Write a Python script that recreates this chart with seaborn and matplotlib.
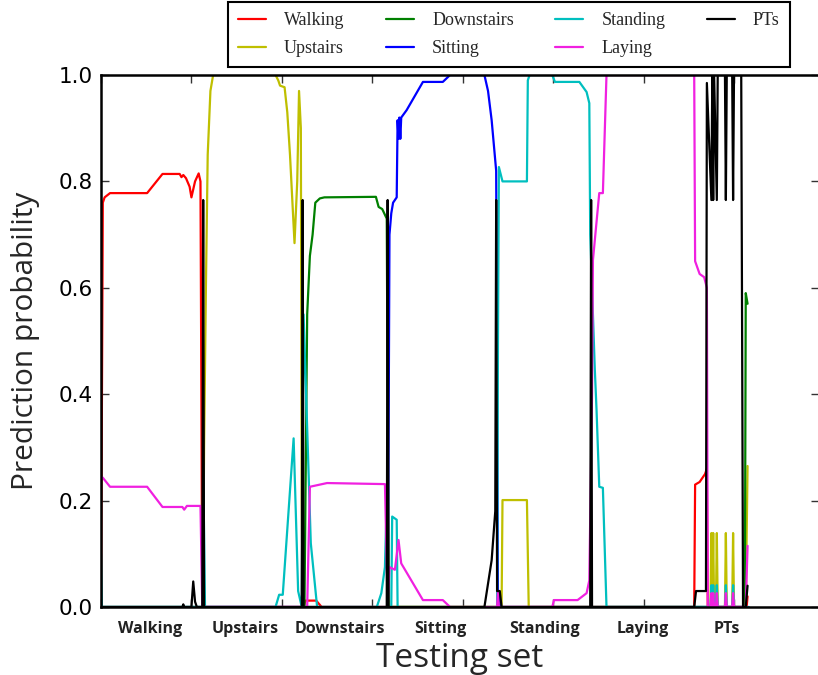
import pandas as pd
import matplotlib.pyplot as plt
import seaborn as sns
from matplotlib.lines import Line2D

sns.set_style("white")
plt.rcParams['font.family'] = ['DejaVu Sans']

# Leitura aproximada das curvas (x = amostra do conjunto de teste)
walk_x = [0, 2, 4, 10, 51, 68, 87, 89, 91, 94, 98, 100, 102, 104, 108, 110, 112, 224, 226, 238, 244,
          656, 657, 662, 668, 670, 671, 714, 715]
walk_y = [0, 0.76, 0.77, 0.778, 0.778, 0.814, 0.814, 0.808, 0.812, 0.806, 0.79, 0.77, 0.785, 0.80, 0.815,
          0.80, 0, 0, 0.012, 0.012, 0, 0, 0.23, 0.235, 0.25, 0.26, 0, 0, 0.02]

up_x = [0, 112, 113, 114, 116, 118, 121, 124, 193, 196, 198, 203, 206, 209, 212, 214, 217, 219, 221, 222, 223,
        443, 444, 471, 473, 674, 675, 676, 677, 678, 680, 681, 682, 690, 691, 692, 698, 699, 700, 713, 715]
up_y = [0, 0, 0.05, 0.30, 0.60, 0.85, 0.97, 1.0, 1.0, 0.99, 0.98, 0.977, 0.93, 0.85, 0.75, 0.684, 0.80, 0.97,
        0.90, 0.20, 0, 0, 0.201, 0.201, 0, 0, 0.139, 0, 0.139, 0, 0, 0.139, 0, 0, 0.139, 0, 0, 0.139, 0, 0, 0.265]

down_x = [0, 225, 228, 231, 234, 237, 242, 247, 304, 307, 311, 316, 318, 712, 713, 715]
down_y = [0, 0, 0.55, 0.66, 0.70, 0.76, 0.768, 0.77, 0.771, 0.752, 0.748, 0.73, 0, 0, 0.59, 0.57]

sit_x = [0, 317, 318, 319, 321, 323, 327, 328, 329, 330, 331, 332, 338, 356, 378, 386, 424, 428, 432, 437,
         438, 439, 440, 441, 716]
sit_y = [0, 0, 0.30, 0.70, 0.74, 0.76, 0.77, 0.915, 0.88, 0.92, 0.88, 0.92, 0.934, 0.987, 0.987, 1.0, 1.0,
         0.97, 0.915, 0.82, 0.40, 0, 0.03, 0, 0]

stand_x = [0, 1, 112, 113, 115, 193, 197, 201, 213, 218, 222, 224, 227, 232, 239, 305, 310, 314, 316, 317,
           321, 322, 327, 328, 438, 439, 440, 444, 471, 472, 474, 499, 502, 529, 537, 540, 541, 543, 546, 548,
           551, 555, 559, 674, 675, 676, 677, 678, 680, 681, 682, 690, 691, 692, 698, 699, 700, 716]
stand_y = [0.10, 0, 0, 0.27, 0, 0, 0.023, 0.023, 0.317, 0.03, 0, 0.55, 0.39, 0.12, 0, 0, 0.026, 0.075, 0.20, 0,
           0, 0.17, 0.164, 0, 0, 0.50, 0.827, 0.80, 0.80, 0.99, 1.0, 1.0, 0.987, 0.987, 0.968, 0.947, 0.70, 0.60,
           0.45, 0.37, 0.226, 0.224, 0, 0, 0.041, 0, 0.041, 0, 0, 0.041, 0, 0, 0.041, 0, 0, 0.041, 0, 0]

lay_x = [0, 2, 10, 51, 68, 90, 92, 95, 110, 112, 228, 231, 250, 314, 317, 319, 325, 329, 332, 356, 378, 386,
         438, 439, 440, 499, 501, 527, 537, 540, 543, 544, 551, 555, 559, 656, 657, 662, 667, 670, 671,
         674, 675, 676, 677, 678, 680, 681, 682, 690, 691, 692, 698, 699, 700, 713, 715]
lay_y = [0.245, 0.243, 0.226, 0.226, 0.188, 0.188, 0.183, 0.19, 0.19, 0, 0, 0.226, 0.233, 0.231, 0, 0.075, 0.07,
         0.126, 0.082, 0.013, 0.013, 0, 0, 0.03, 0, 0, 0.013, 0.013, 0.026, 0.05, 0.40, 0.652, 0.778, 0.778, 1.0,
         1.0, 0.65, 0.626, 0.62, 0.60, 0, 0, 0.026, 0, 0.026, 0, 0, 0.026, 0, 0, 0.026, 0, 0, 0.026, 0, 0, 0.115]

pts_x = [0, 90, 91, 92, 100, 102, 104, 106, 112, 113, 114, 222, 223, 224, 316, 317, 318, 424, 432, 436, 437,
         438, 441, 443, 541, 542, 543, 656, 658, 669, 670, 675, 676, 677, 678, 681, 682, 690, 691, 692, 698,
         699, 700, 708, 710, 713, 715]
pts_y = [0, 0, 0.005, 0, 0, 0.048, 0.01, 0, 0, 0.765, 0, 0, 0.765, 0, 0, 0.765, 0, 0, 0.088, 0.18, 0.765,
         0.03, 0.03, 0, 0, 0.765, 0, 0, 0.03, 0.03, 0.985, 0.765, 1.0, 0.765, 1.0, 0.765, 1.0, 1.0, 0.765, 1.0,
         1.0, 0.765, 1.0, 1.0, 0, 0, 0.04]

activities = ["Walking", "Upstairs", "Downstairs", "Sitting", "Standing", "Laying", "PTs"]
colors = ["#ff0000", "#bfbf00", "#008000", "#0000ff", "#00bfbf", "#f020e0", "#000000"]
series = [(walk_x, walk_y), (up_x, up_y), (down_x, down_y), (sit_x, sit_y),
          (stand_x, stand_y), (lay_x, lay_y), (pts_x, pts_y)]

# Rótulos das classes no eixo x
class_centers = [54, 159, 264, 375, 491, 599, 692]
class_labels = ["Walking", "Upstairs", "Downstairs", "Sitting", "Standing", "Laying", "PTs"]

frames = []
for name, (xs, ys) in zip(activities, series):
    frames.append(pd.DataFrame({"amostra": xs, "prob": ys, "classe": name}))
df = pd.concat(frames, ignore_index=True)

fig = plt.figure(figsize=(8.18, 6.75), dpi=100)
ax = fig.add_axes([101 / 818, 68 / 675, 718 / 818, 532 / 675])

sns.lineplot(data=df, x="amostra", y="prob", hue="classe", hue_order=activities,
             palette=dict(zip(activities, colors)), estimator=None, sort=False,
             linewidth=1.6, legend=False, ax=ax)

ax.set_xlim(0, 794)
ax.set_ylim(0, 1.0)
ax.set_xticks(range(0, 800, 100))
ax.set_xticklabels([])
ax.set_yticks([0, 0.2, 0.4, 0.6, 0.8, 1.0])
ax.set_yticklabels(["0.0", "0.2", "0.4", "0.6", "0.8", "1.0"], fontsize=15.5)
ax.set_xticks(class_centers, minor=True)
ax.set_xticklabels(class_labels, minor=True, fontsize=11.5, fontweight="bold",
                   family="Open Sans", color="#222222")
ax.tick_params(which="major", direction="in", length=6, width=1, top=True, right=True,
               bottom=True, left=True, colors="#333333", labelcolor="black", pad=6)
ax.tick_params(which="minor", length=0, pad=10)
for s in ax.spines.values():
    s.set_color("black")
    s.set_linewidth(1.8)

ax.set_ylabel("Prediction probability", fontsize=21.5, family="Open Sans")
ax.yaxis.set_label_coords(-0.085, 0.5)
ax.set_xlabel("Testing set", fontsize=24, family="Open Sans")
ax.xaxis.set_label_coords(0.5, -0.065)

handles = [Line2D([], [], color=c, lw=1.6) for c in colors]
leg = ax.legend(handles, activities, ncol=4, loc="upper left",
                bbox_to_anchor=(228 / 818, 1 - 2 / 675), bbox_transform=fig.transFigure,
                borderaxespad=0, prop={"family": "Liberation Serif", "size": 13},
                handlelength=1.55, handletextpad=1.0, columnspacing=2.3, labelspacing=0.62,
                borderpad=0.55, fancybox=False, framealpha=1, edgecolor="black")
leg.get_frame().set_linewidth(1.5)

fig.savefig("out.png", dpi=100)
